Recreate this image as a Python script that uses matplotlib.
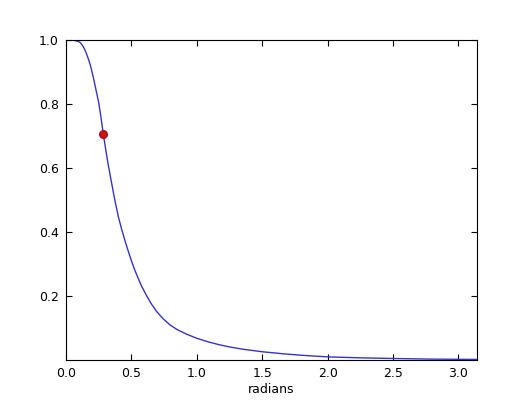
import matplotlib
matplotlib.use('Agg')
import matplotlib.pyplot as plt
import numpy as np

# curve values (radians, magnitude)
radians = [0.0, 0.04, 0.07, 0.09, 0.109, 0.13, 0.147, 0.165, 0.186, 0.211,
           0.23, 0.25, 0.268, 0.285, 0.30, 0.32, 0.349, 0.375, 0.40, 0.425,
           0.45, 0.475, 0.50, 0.525, 0.552, 0.58, 0.616, 0.65, 0.692, 0.74,
           0.794, 0.85, 0.921, 1.0, 1.086, 1.17, 1.25, 1.35, 1.5, 1.65,
           1.8, 2.0, 2.25, 2.5, 2.8, 3.14159]
magnitude = [1.0, 1.0, 0.998, 0.996, 0.992, 0.981, 0.967, 0.948, 0.922, 0.880,
             0.843, 0.805, 0.757, 0.707, 0.668, 0.617, 0.553, 0.497, 0.449, 0.410,
             0.375, 0.342, 0.311, 0.283, 0.256, 0.230, 0.202, 0.178, 0.153, 0.131,
             0.111, 0.096, 0.082, 0.069, 0.058, 0.049, 0.042, 0.035, 0.027, 0.021,
             0.016, 0.011, 0.008, 0.006, 0.004, 0.003]

# half power point
dot_x = [0.285]
dot_y = [0.707]

xticks = [0.0, 0.5, 1.0, 1.5, 2.0, 2.5, 3.0]
yticks = [0.2, 0.4, 0.6, 0.8, 1.0]

fig = plt.figure(figsize=(5.3, 4), dpi=100)
ax = fig.add_axes([0.1245, 0.099, 0.7755, 0.801])

ax.plot(radians, magnitude, color='#3333cc', lw=1.0)
ax.plot(dot_x, dot_y, 'o', color='#cc1111', markeredgecolor='#aa1111', markersize=5.5)

ax.set_xlim(0, np.pi)
ax.set_ylim(0, 1)
ax.set_xticks(xticks)
ax.set_yticks(yticks)
ax.tick_params(direction='in', top=True, right=True, length=4, labelsize=9, pad=5)
ax.set_xlabel('radians', fontsize=9, labelpad=2)

fig.savefig('out.png')
